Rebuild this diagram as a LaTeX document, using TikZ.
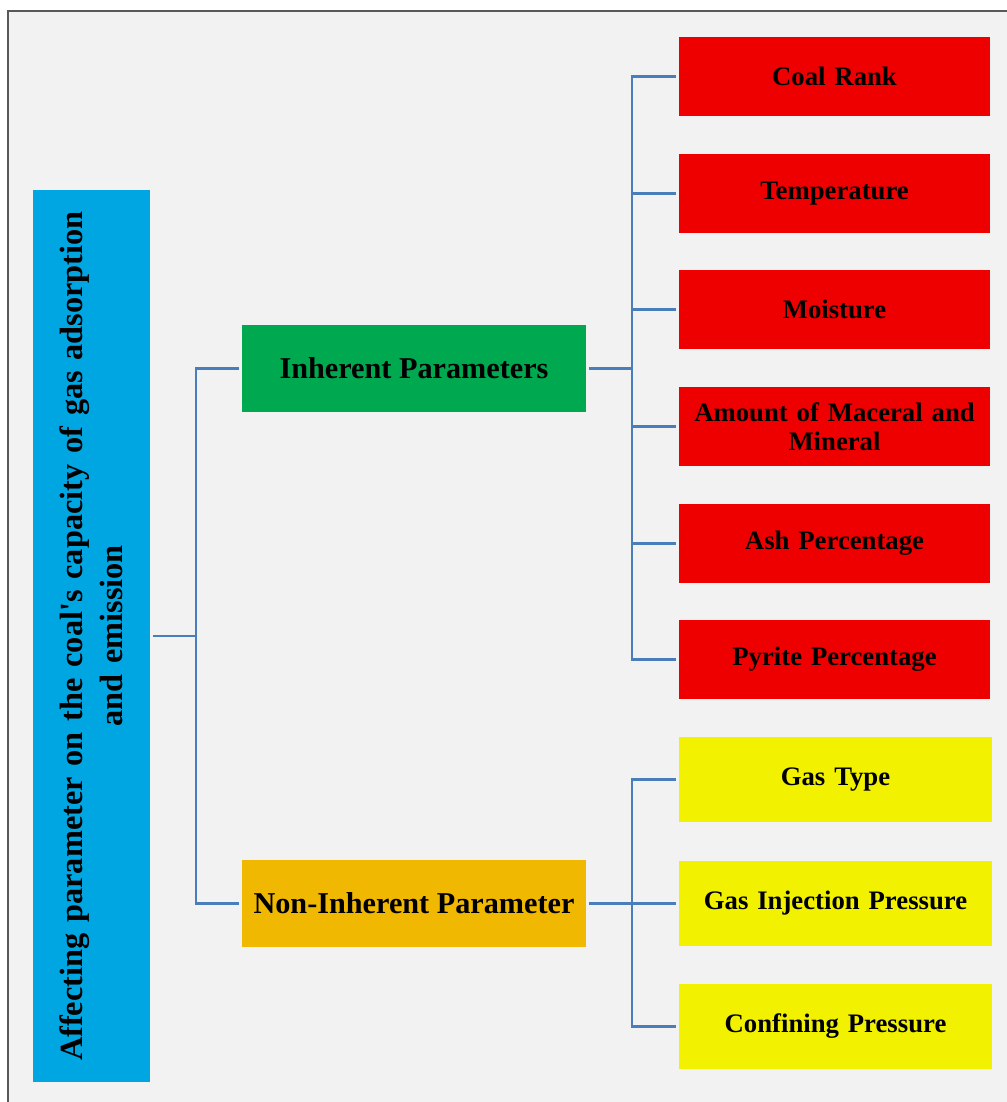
\documentclass[tikz,border=0pt]{standalone}
\usepackage{fontspec}
\setmainfont{Liberation Serif}
\definecolor{pagebg}{HTML}{F2F2F2}
\definecolor{rootblue}{HTML}{00A6E2}
\definecolor{inhgreen}{HTML}{00A84F}
\definecolor{noninhorange}{HTML}{F0B800}
\definecolor{leafred}{HTML}{EE0000}
\definecolor{leafyellow}{HTML}{F2F200}
\definecolor{linkblue}{HTML}{4A7EBB}
\tikzset{
  rootbox/.style={fill=rootblue, rotate=90, align=center, text width=21.9cm,
    minimum width=22.3cm, minimum height=2.925cm, inner sep=0pt, outer sep=2pt,
    font=\bfseries\fontsize{23}{28.5}\selectfont},
  midbox/.style={align=center, minimum width=8.6cm, minimum height=2.175cm,
    inner sep=0pt, outer sep=2pt, font=\bfseries\fontsize{21.5}{25}\selectfont},
  leafbox/.style={fill=leafred, align=center, text width=7.3cm,
    minimum width=7.775cm, minimum height=1.975cm, inner sep=0pt, outer sep=2pt,
    font=\bfseries\fontsize{19}{20.5}\selectfont},
  gasbox/.style={leafbox, fill=leafyellow, minimum width=7.825cm, minimum height=2.125cm},
  link/.style={draw=linkblue, line width=2.1pt}
}
\begin{document}
\begin{tikzpicture}[x=0.025cm, y=-0.025cm]
\useasboundingbox (0,0) rectangle (1006,1102);
\fill[white] (0,0) rectangle (1006,1102);
\draw[fill=pagebg, draw=black!65, line width=1pt] (8,11) rectangle (1012,1110);

\node[rootbox] (root) at (91.5,636) {Affecting parameter on the coal\textquotesingle s capacity of gas adsorption\\and emission};
\node[midbox, fill=inhgreen] (inh) at (414,368.5) {Inherent Parameters};
\node[midbox, fill=noninhorange] (noninh) at (414,903.5) {Non-Inherent Parameter};

\node[leafbox] (r1) at (834.5,76.5) {Coal Rank};
\node[leafbox] (r2) at (834.5,193.5) {Temperature};
\node[leafbox] (r3) at (834.5,309.5) {Moisture};
\node[leafbox] (r4) at (834.5,426.5) {Amount of Maceral and\\Mineral};
\node[leafbox] (r5) at (834.5,543.5) {Ash Percentage};
\node[leafbox] (r6) at (834.5,659.5) {Pyrite Percentage};

\node[gasbox] (g1) at (835.5,779.5) {Gas Type};
\node[gasbox] (g2) at (835.5,903.5) {Gas Injection Pressure};
\node[gasbox] (g3) at (835.5,1026.5) {Confining Pressure};

% branch points
\coordinate (rj) at (196,636);
\coordinate (ij) at (632,368.5);
\coordinate (nj) at (632,903.5);

\draw[link] (root.south) -- (rj);
\draw[link] (inh.west) -| (rj) |- (noninh.west);
\draw[link] (inh.east) -- (ij);
\foreach \i in {1,...,6}
  \draw[link] (ij) |- (r\i.west);
\draw[link] (noninh.east) -- (nj);
\foreach \i in {1,2,3}
  \draw[link] (nj) |- (g\i.west);
\end{tikzpicture}
\end{document}
